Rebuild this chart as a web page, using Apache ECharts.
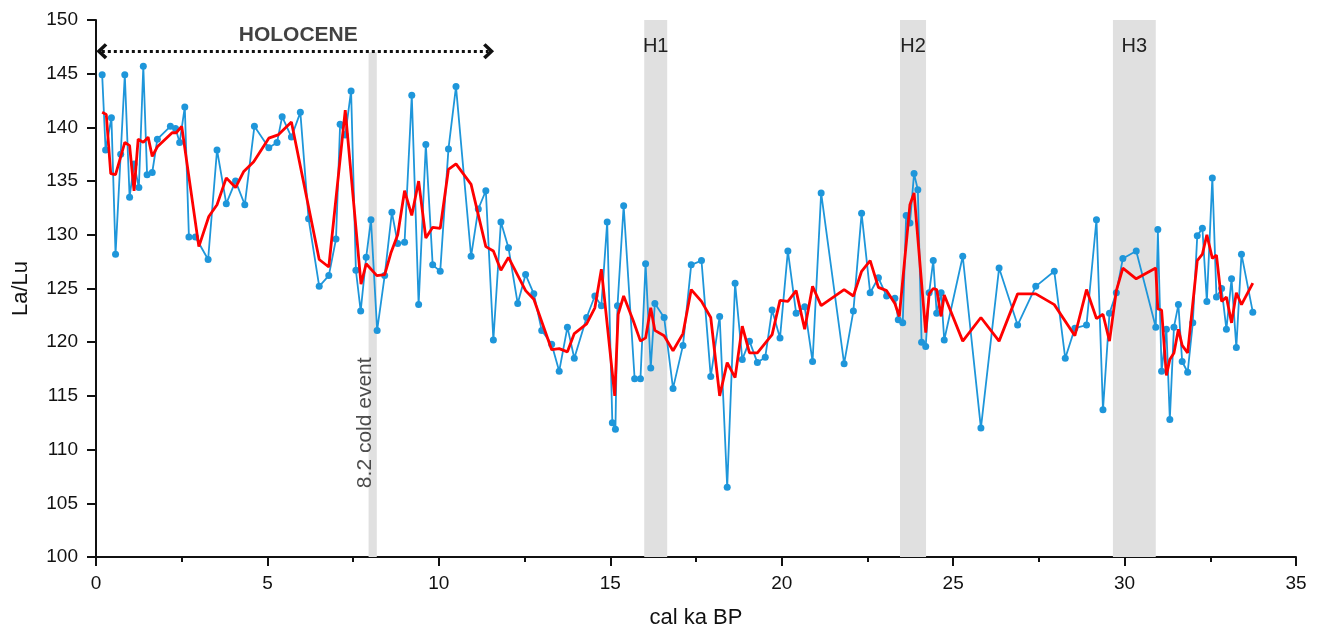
<!DOCTYPE html>
<html>
<head>
<meta charset="utf-8">
<script src="https://cdn.jsdelivr.net/npm/echarts@6/dist/echarts.min.js"></script>
<style>html,body{margin:0;padding:0;background:#fff}#chart{width:1319px;height:631px}</style>
</head>
<body>
<div id="chart"></div>
<script>
// ---- data ----
const rawAge = [0.18,0.28,0.45,0.57,0.72,0.84,0.98,1.11,1.25,1.38,1.49,1.64,1.79,2.17,2.32,2.44,2.59,2.71,2.9,3.27,3.53,3.8,4.07,4.34,4.62,5.04,5.28,5.43,5.7,5.96,6.2,6.51,6.79,7.0,7.12,7.27,7.44,7.58,7.72,7.88,8.02,8.2,8.42,8.63,8.8,9.0,9.21,9.41,9.62,9.82,10.04,10.28,10.5,10.94,11.15,11.37,11.59,11.81,12.03,12.3,12.53,12.77,13.0,13.29,13.51,13.75,13.95,14.31,14.55,14.74,14.91,15.06,15.15,15.21,15.39,15.71,15.88,16.03,16.18,16.3,16.57,16.83,17.12,17.36,17.66,17.93,18.19,18.41,18.64,18.85,19.06,19.29,19.52,19.72,19.95,20.18,20.42,20.67,20.9,21.15,21.82,22.09,22.33,22.58,22.82,23.06,23.3,23.4,23.53,23.63,23.74,23.86,23.97,24.08,24.2,24.3,24.42,24.52,24.65,24.74,25.28,25.81,26.34,26.88,27.41,27.95,28.27,28.55,28.89,29.18,29.37,29.56,29.76,29.95,30.34,30.91,30.97,31.08,31.22,31.32,31.44,31.57,31.68,31.84,31.99,32.12,32.27,32.4,32.56,32.68,32.83,32.97,33.12,33.26,33.41,33.74];
const rawLaLu = [144.9,137.9,140.9,128.2,137.5,144.9,133.5,136.6,134.4,145.7,135.6,135.8,138.9,140.1,139.9,138.6,141.9,129.8,129.8,127.7,137.9,132.9,135.0,132.8,140.1,138.1,138.6,141.0,139.1,141.4,131.5,125.2,126.2,129.6,140.3,139.3,143.4,126.7,122.9,127.9,131.4,121.1,126.2,132.1,129.2,129.3,143.0,123.5,138.4,127.2,126.6,138.0,143.8,128.0,132.4,134.1,120.2,131.2,128.8,123.6,126.3,124.5,121.1,119.8,117.3,121.4,118.5,122.3,124.3,123.4,131.2,112.5,111.9,123.4,132.7,116.6,116.6,127.3,117.6,123.6,122.3,115.7,119.7,127.2,127.6,116.8,122.4,106.5,125.5,118.4,120.1,118.1,118.6,123.0,120.4,128.5,122.7,123.3,118.2,133.9,118.0,122.9,132.0,124.6,126.0,124.3,124.1,122.1,121.8,131.8,131.1,135.7,134.2,120.0,119.6,124.6,127.6,122.7,124.6,120.2,128.0,112.0,126.9,121.6,125.2,126.6,118.5,121.3,121.6,131.4,113.7,122.7,124.6,127.8,128.5,121.4,130.5,117.3,121.2,112.8,121.4,123.5,118.2,117.2,121.8,129.9,130.6,123.8,135.3,124.2,125.0,121.2,125.9,119.5,128.2,122.8];

const smoothAge = [0.18,0.3,0.43,0.57,0.84,0.98,1.11,1.23,1.38,1.52,1.64,1.79,2.22,2.34,2.5,3.0,3.29,3.53,3.8,4.07,4.31,4.6,5.04,5.31,5.7,6.51,6.79,7.27,7.73,7.88,8.19,8.42,8.6,8.8,9.0,9.21,9.41,9.62,9.82,10.04,10.28,10.5,10.94,11.37,11.59,11.81,12.03,12.53,12.77,13.29,13.51,13.75,13.95,14.31,14.55,14.74,15.13,15.23,15.39,15.67,15.88,16.03,16.18,16.3,16.57,16.83,17.12,17.36,17.66,17.93,18.19,18.41,18.64,18.85,19.06,19.29,19.72,19.95,20.18,20.42,20.67,20.9,21.15,21.82,22.09,22.33,22.58,22.82,23.06,23.3,23.43,23.74,23.86,24.2,24.3,24.42,24.52,24.65,24.74,25.28,25.81,26.34,26.88,27.41,27.95,28.55,28.89,29.18,29.37,29.56,29.76,29.95,30.34,30.91,30.97,31.08,31.22,31.32,31.44,31.57,31.68,31.84,32.12,32.27,32.4,32.56,32.68,32.83,32.97,33.12,33.26,33.41,33.74];
const smoothLaLu = [141.4,141.2,135.7,135.6,138.6,138.3,134.1,138.9,138.6,139.1,137.3,138.2,139.5,139.5,140.1,128.9,131.7,132.8,135.3,134.4,135.9,136.8,139.0,139.3,140.5,127.7,127.0,141.6,125.4,127.3,126.2,126.3,128.3,130.0,134.1,131.8,135.0,129.7,130.7,130.6,136.1,136.6,134.7,128.9,128.5,126.7,127.9,124.8,124.0,119.3,119.4,119.1,120.8,121.7,123.2,126.8,115.0,122.6,124.3,122.0,120.1,120.4,123.2,121.1,120.6,119.2,120.8,124.9,123.8,122.3,115.0,118.1,116.7,121.5,119.0,119.0,120.7,123.9,123.8,124.8,121.2,125.2,123.4,124.9,124.3,126.6,127.6,125.1,124.8,123.6,122.4,132.8,133.9,120.9,124.5,125.0,124.9,122.4,124.4,120.1,122.3,120.1,124.5,124.5,123.5,120.6,124.9,122.2,122.6,120.1,124.8,126.9,125.9,126.9,123.1,123.0,116.9,118.4,119.0,121.2,119.7,119.0,127.6,128.2,130.0,127.8,128.1,123.8,124.2,121.8,124.6,123.5,125.5];

const eventNames = ['H1','H2','H3'];
const eventStart = [15.99,23.45,29.66];
const eventEnd = [16.66,24.21,30.91];
const coldEvent = {name:'8.2 cold event', start:7.95, end:8.19, top:147.0};
const holocene = {label:'HOLOCENE', start:0, end:11.6, level:147.1};
const xTicks = {min:0, max:35, step:5};
const yTicks = {min:100, max:150, step:5};

// ---- build ----
const rawData = rawAge.map((a,i)=>[a, rawLaLu[i]]);
const smoothData = smoothAge.map((a,i)=>[a, smoothLaLu[i]]);
const bandAreas = eventNames.map((n,i)=>[{name:n, xAxis:eventStart[i]},{xAxis:eventEnd[i]}]);
bandAreas.push([{name:'', xAxis:coldEvent.start, yAxis:yTicks.min},{xAxis:coldEvent.end, yAxis:coldEvent.top}]);

const chevron = 'path://M0,10 L10,0 L20,10 L17,13 L10,6 L3,13 Z';
const FONT = '"Liberation Sans", Arial, sans-serif';

const chart = echarts.init(document.getElementById('chart'), null, {renderer:'canvas'});
chart.setOption({
  animation:false,
  backgroundColor:'#fff',
  grid:{left:96, right:23, top:20, bottom:74, containLabel:false, outerBoundsMode:'none'},
  xAxis:{
    type:'value', min:xTicks.min, max:xTicks.max, interval:xTicks.step,
    name:'cal ka BP', nameLocation:'middle', nameGap:50,
    nameTextStyle:{fontFamily:FONT, fontSize:22, color:'#111'},
    axisLine:{show:true, onZero:false, lineStyle:{color:'#111', width:2}},
    axisTick:{show:true, length:9, lineStyle:{color:'#111', width:2}},
    minorTick:{show:true, splitNumber:2, length:5, lineStyle:{color:'#111', width:2}},
    axisLabel:{fontFamily:FONT, fontSize:19, color:'#111', margin:17},
    splitLine:{show:false}
  },
  yAxis:{
    type:'value', min:yTicks.min, max:yTicks.max, interval:yTicks.step,
    name:'La/Lu', nameLocation:'middle', nameGap:64,
    nameTextStyle:{fontFamily:FONT, fontSize:22, color:'#111'},
    axisLine:{show:true, onZero:false, lineStyle:{color:'#111', width:2}},
    axisTick:{show:true, length:9, lineStyle:{color:'#111', width:2}},
    axisLabel:{fontFamily:FONT, fontSize:19, color:'#111', margin:18},
    splitLine:{show:false}
  },
  series:[
    {
      name:'bands', type:'line', data:[], silent:true,
      markArea:{
        silent:true,
        itemStyle:{color:'#e0e0e0'},
        label:{show:true, position:'insideTop', distance:16, fontFamily:FONT, fontSize:20, color:'#222'},
        data:bandAreas
      }
    },
    {
      name:'La/Lu', type:'line', data:rawData, z:3,
      symbol:'circle', symbolSize:7, showSymbol:true,
      lineStyle:{color:'#1E96DA', width:1.8},
      itemStyle:{color:'#1E96DA'}
    },
    {
      name:'smoothed', type:'line', data:smoothData, z:4,
      symbol:'none',
      lineStyle:{color:'#FF0000', width:2.8}
    },
    {
      name:'annotations', type:'scatter', silent:true, z:5,
      symbolSize:1, itemStyle:{color:'rgba(0,0,0,0)'},
      data:[
        {value:[5.9,148.6], label:{show:true, position:'inside', formatter:holocene.label, fontFamily:FONT, fontSize:21, fontWeight:'bold', color:'#111'}},
        {value:[7.85,112.5], label:{show:true, position:'inside', rotate:90, formatter:coldEvent.name, fontFamily:FONT, fontSize:21, color:'#222'}}
      ],
      markLine:{
        silent:true,
        symbol:[chevron, chevron],
        symbolSize:[16,11],
        label:{show:false},
        lineStyle:{color:'#111', width:3, type:[3,3]},
        data:[[{coord:[holocene.start+0.17, holocene.level]},{coord:[holocene.end-0.15, holocene.level]}]]
      }
    }
  ]
});
</script>
</body>
</html>
